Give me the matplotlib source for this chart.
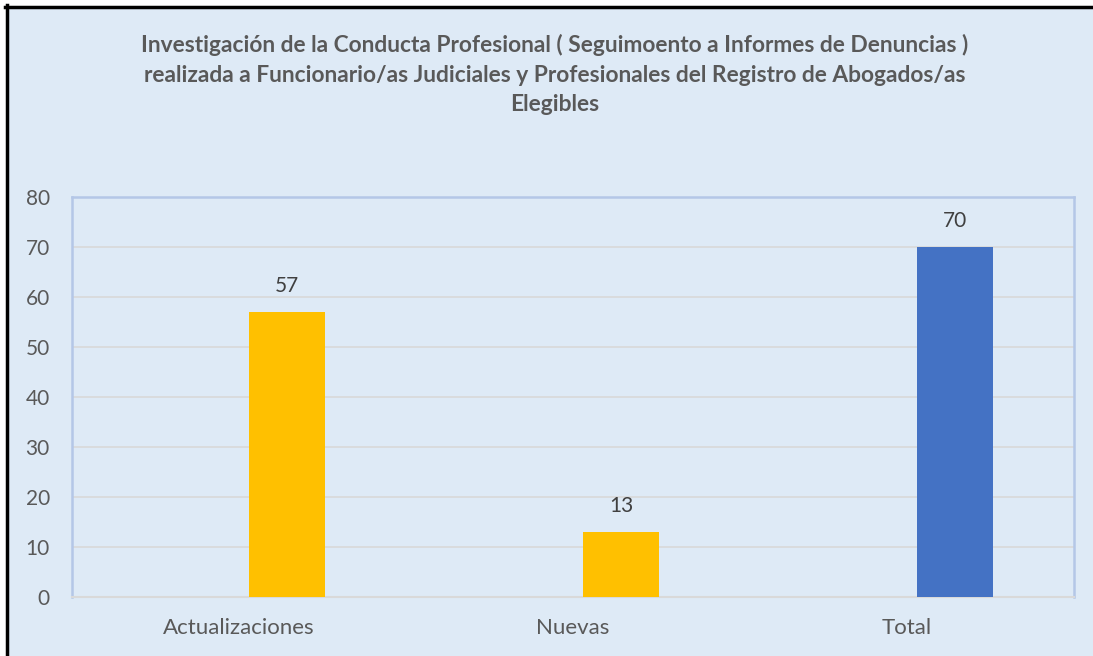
import matplotlib
matplotlib.use('Agg')
import matplotlib.pyplot as plt
from matplotlib.patches import Rectangle
from matplotlib.lines import Line2D

categories = ['Actualizaciones', 'Nuevas', 'Total']
values = [57, 13, 70]
bar_colors = ['#FFC000', '#FFC000', '#4472C4']
yticks = [0, 10, 20, 30, 40, 50, 60, 70, 80]
title = ('Investigación de la Conducta Profesional ( Seguimoento a Informes de Denuncias )\n'
         'realizada a Funcionario/as Judiciales y Profesionales del Registro de Abogados/as\n'
         'Elegibles')

plt.rcParams['font.family'] = ['Lato', 'DejaVu Sans']
bg = '#DEEAF6'
txt = '#595959'

fig = plt.figure(figsize=(10.93, 6.56), dpi=100, facecolor='white')
W, H = 1093, 656
# chart background with black frame on left/top
fig.patches.append(Rectangle((6/W, 0), 1 - 6/W, 1 - 6/H, transform=fig.transFigure,
                             facecolor=bg, edgecolor='none', zorder=-5))
fig.lines.append(Line2D([6.5/W, 6.5/W], [0, 1 - 5/H], transform=fig.transFigure,
                        color='black', lw=2.5, zorder=5))
fig.lines.append(Line2D([5/W, 1], [1 - 6.5/H, 1 - 6.5/H], transform=fig.transFigure,
                        color='black', lw=2.5, zorder=5))

ax = fig.add_axes([72/W, 1 - 597/H, (1074 - 72)/W, (597 - 197)/H])
ax.set_facecolor(bg)
x = list(range(len(categories)))
# bars sit right of the category centre (second slot of a two-series cluster)
shift = 0.144
bx = [xi + shift for xi in x]
ax.bar(bx, values, width=0.228, color=bar_colors, zorder=3)
for xi, v in zip(bx, values):
    ax.text(xi, v + 3.2, str(v), ha='center', va='bottom', fontsize=15, color='#404040')

ax.set_xlim(-0.5, len(categories) - 0.5)
ax.set_ylim(0, 80)
ax.set_yticks(yticks)
ax.set_xticks(x)
ax.set_xticklabels(categories, fontsize=16)
ax.tick_params(axis='both', length=0, labelcolor=txt)
ax.tick_params(axis='y', pad=16, labelsize=15)
ax.tick_params(axis='x', pad=15)
ax.grid(axis='y', color='#D9D9D9', lw=1.2, zorder=0)
for s in ['left', 'top', 'right']:
    ax.spines[s].set_color('#B4C7E7')
    ax.spines[s].set_linewidth(1.8)
ax.spines['bottom'].set_color('#D9D9D9')
ax.spines['bottom'].set_linewidth(1.5)

fig.text(555/W, 1 - 34/H, title, ha='center', va='top', fontsize=16.4,
         fontweight='bold', color=txt, linespacing=1.5)

fig.savefig('out.png', dpi=100, facecolor=fig.get_facecolor())
